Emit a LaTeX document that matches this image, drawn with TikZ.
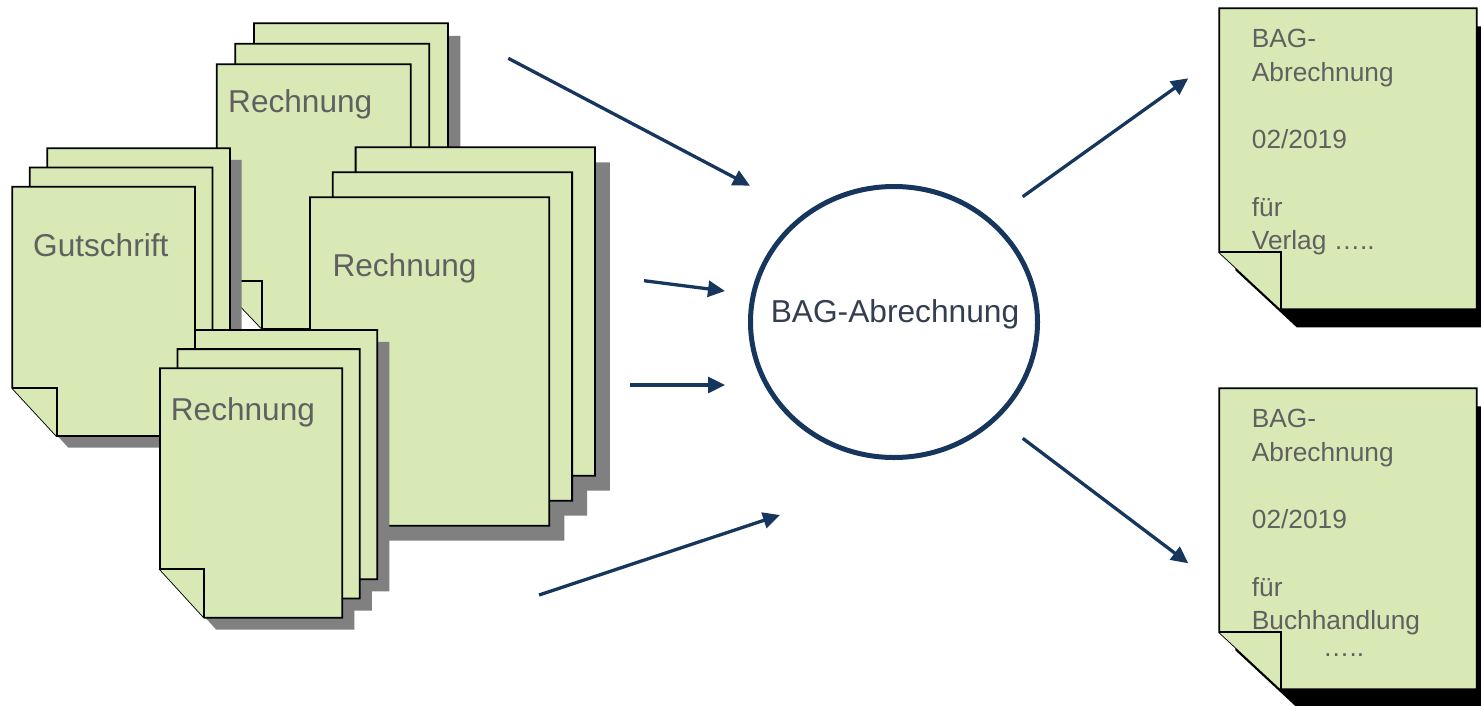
\documentclass[tikz,border=0pt]{standalone}
\usepackage{fontspec}
\setmainfont{Liberation Sans}
\usetikzlibrary{arrows.meta,shapes.geometric}
\definecolor{paper}{HTML}{D8E9B5}
\definecolor{shadowgray}{HTML}{808080}
\definecolor{navy}{HTML}{17365D}
\definecolor{txtgray}{HTML}{606060}
\definecolor{circtxt}{HTML}{333F50}
\newcommand\sheetp[6]{(#1,#2) -- (#3,#2) -- (#3,#4) -- ({#1+#5},#4) -- (#1,{#4-#6}) -- cycle}
\newcommand\docstack[9]{%
  \foreach \i in {2,1,0}{%
    \pgfmathsetmacro\xl{#1+\i*#5}%
    \pgfmathsetmacro\yt{#2-\i*#6}%
    \pgfmathsetmacro\xr{\xl+#3}%
    \pgfmathsetmacro\yb{\yt+#4}%
    \fill[fill=shadowgray] \sheetp{\xl+#7}{\yt+#7}{\xr+#7}{\yb+#7}{#8}{#9};
  }%
  \foreach \i in {2,1,0}{%
    \pgfmathsetmacro\xl{#1+\i*#5}%
    \pgfmathsetmacro\yt{#2-\i*#6}%
    \pgfmathsetmacro\xr{\xl+#3}%
    \pgfmathsetmacro\yb{\yt+#4}%
    \draw[sheet] \sheetp{\xl}{\yt}{\xr}{\yb}{#8}{#9};
    \draw[sheet] (\xl,{\yb-#9}) -- ({\xl+#8},{\yb-#9}) -- ({\xl+#8},\yb);
  }%
}
\tikzset{
  sheet/.style={fill=paper, draw=black, line width=1.8pt, line join=miter},
  stacktext/.style={anchor=base west, inner sep=0pt, text=txtgray, font=\fontsize{31.6}{38}\selectfont},
  doctext/.style={anchor=base west, inner sep=0pt, text=txtgray, font=\fontsize{26.3}{32}\selectfont},
  arr/.style={draw=navy, line width=3.3pt, -{Triangle[length=17pt,width=16pt]}},
}
\begin{document}
\begin{tikzpicture}[x=1pt,y=-1pt]
\useasboundingbox (0,0) rectangle (1481,705);
% top stack
\docstack{216.7}{64.3}{194}{264.7}{18.6}{20.5}{12.5}{45.6}{48}
\node[stacktext] (t1) at (228,112) {Rechnung};
% Gutschrift stack
\docstack{12.3}{186.7}{182.7}{249.3}{17.5}{19.2}{11.5}{44.4}{48}
\node[stacktext] (t2) at (33,256.7) {Gutschrift};
% middle stack
\docstack{310}{197.3}{239.3}{328.4}{22.8}{25}{15}{58}{63}
\node[stacktext] (t3) at (332.3,276.7) {Rechnung};
% bottom stack
\docstack{160}{368.3}{182.3}{249.4}{17.5}{19.2}{12}{44.3}{48.4}
\node[stacktext] (t4) at (170.7,420) {Rechnung};
% right documents
\fill[black] \sheetp{1235.3}{26.3}{1492.7}{327.3}{61.4}{57};
\draw[sheet] \sheetp{1219.3}{8.3}{1476.7}{309.3}{61.4}{57};
\draw[sheet] (1219.3,252.3) -- (1280.7,252.3) -- (1280.7,309.3);
\fill[black] \sheetp{1235.3}{406.3}{1492.7}{707.3}{61.4}{57};
\draw[sheet] \sheetp{1219.3}{388.3}{1476.7}{689.3}{61.4}{57};
\draw[sheet] (1219.3,632.3) -- (1280.7,632.3) -- (1280.7,689.3);
\node[doctext] (r1a) at (1251.7,47.7) {BAG-};
\node[doctext] (r1b) at (1251.7,81) {Abrechnung};
\node[doctext] (r1c) at (1251.7,148.3) {02/2019};
\node[doctext] (r1d) at (1251.7,216.7) {für};
\node[doctext] (r1e) at (1251.7,249.3) {Verlag …..};
\node[doctext] (r2a) at (1251.7,427.7) {BAG-};
\node[doctext] (r2b) at (1251.7,461) {Abrechnung};
\node[doctext] (r2c) at (1251.7,528.3) {02/2019};
\node[doctext] (r2d) at (1251.7,596.7) {für};
\node[doctext] (r2e) at (1251.7,629.8) {Buchhandlung};
\node[doctext] (r2f) at (1323,656) {…..};
% central process
\node[ellipse, draw=navy, line width=5pt, minimum width=287pt, minimum height=271pt, inner sep=0pt] (bag) at (894,322) {};
\node[anchor=base, inner sep=0pt, text=circtxt, font=\fontsize{31.7}{38}\selectfont] (bagtxt) at (895,322) {BAG-Abrechnung};
% arrows
\coordinate (a1s) at (508.3,58.3);  \coordinate (a1e) at (750,185.7);
\coordinate (a2s) at (644,280.7);   \coordinate (a2e) at (725,291);
\coordinate (a3s) at (630,385);     \coordinate (a3e) at (725,385);
\coordinate (a4s) at (539,595);     \coordinate (a4e) at (780,515);
\coordinate (a5s) at (1022.7,196.7); \coordinate (a5e) at (1188.3,78.3);
\coordinate (a6s) at (1022.7,438.3); \coordinate (a6e) at (1188.3,563.3);
\draw[arr] (a1s) -- (a1e);
\draw[arr] (a2s) -- (a2e);
\draw[arr] (a3s) -- (a3e);
\draw[arr] (a4s) -- (a4e);
\draw[arr] (a5s) -- (a5e);
\draw[arr] (a6s) -- (a6e);
\end{tikzpicture}
\end{document}
